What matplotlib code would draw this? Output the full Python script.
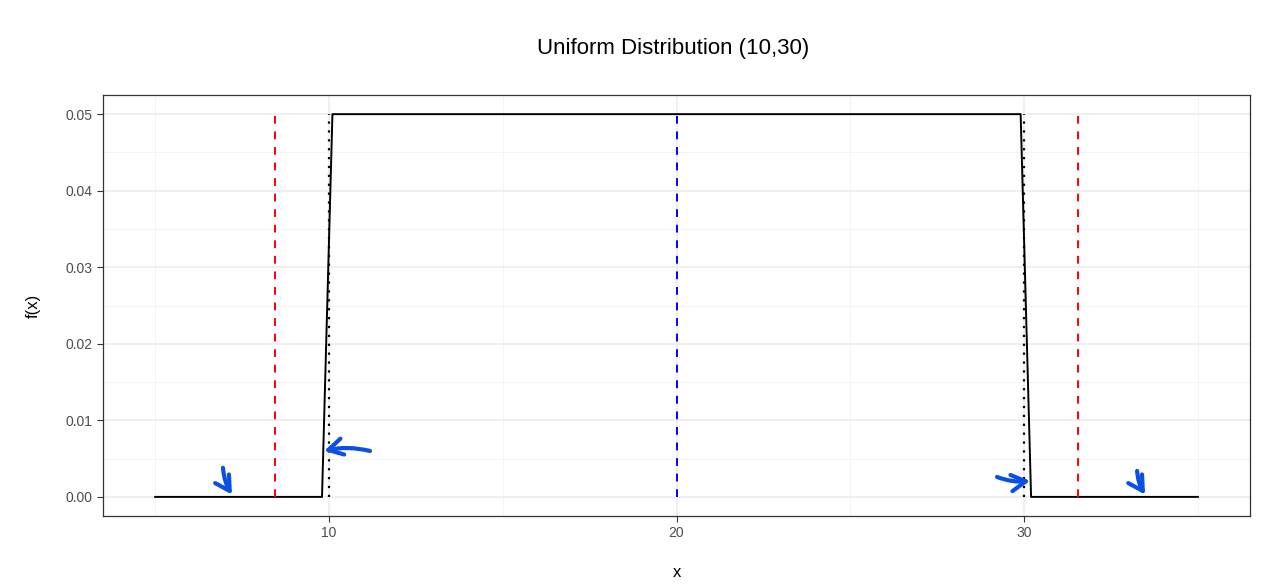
import numpy as np
import matplotlib
matplotlib.use("Agg")
import matplotlib.pyplot as plt
from matplotlib.ticker import MultipleLocator

# density curve corner points (sampled every 0.3 in the original)
x_pts = [5, 9.8, 10.1, 29.9, 30.2, 35]
fx_pts = [0, 0, 0.05, 0.05, 0, 0]

a, b = 10, 30
mean_x = 20
sd_lines = [8.45, 31.55]       # mean +/- 2 sd
top = 0.05

# hand drawn arrows: (tail_x, tail_y, tip_x, tip_y)
arrows = [
    (6.95, 0.0038, 7.21, 0.0003),
    (11.18, 0.0060, 9.86, 0.0060),
    (29.22, 0.0026, 30.17, 0.0021),
    (33.25, 0.0034, 33.48, 0.0003),
]

plt.rcParams['font.family'] = ['Liberation Sans', 'DejaVu Sans']

fig = plt.figure(figsize=(12.8, 5.88), dpi=100)
ax = fig.add_axes([0.0805, 0.1224, 0.8961, 0.716])

# grid like theme_bw
ax.set_xlim(3.5, 36.5)
ax.set_ylim(-0.0025, 0.0525)
ax.xaxis.set_major_locator(MultipleLocator(10))
ax.xaxis.set_minor_locator(MultipleLocator(5))
ax.yaxis.set_major_locator(MultipleLocator(0.01))
ax.yaxis.set_minor_locator(MultipleLocator(0.005))
ax.grid(which='major', color='#EBEBEB', lw=1.1)
ax.grid(which='minor', color='#F2F2F2', lw=0.6)
ax.set_axisbelow(True)
ax.tick_params(which='minor', length=0)
ax.tick_params(which='major', length=4, width=0.8, color='#333333',
               labelcolor='#4D4D4D', labelsize=10)
ax.yaxis.set_major_formatter(plt.FuncFormatter(lambda v, p: f"{v:.2f}"))
for s in ax.spines.values():
    s.set_color('#333333')
    s.set_linewidth(0.9)

# the density
ax.plot(x_pts, fx_pts, color='black', lw=1.4)

# bounds, mean and +/- 2sd
for v in [a, b]:
    ax.plot([v, v], [0, top], color='black', lw=1.6, linestyle=(0, (1, 3)))
for v in sd_lines:
    ax.plot([v, v], [0, top], color='red', lw=1.4, linestyle=(0, (4, 4)))
ax.plot([mean_x, mean_x], [0, top], color='blue', lw=1.4, linestyle=(0, (4, 4)))

for x0, y0, x1, y1 in arrows:
    ax.annotate('', xy=(x1, y1), xytext=(x0, y0),
                arrowprops=dict(arrowstyle='->,head_length=0.8,head_width=0.45',
                                color='#0A50E6', lw=3, mutation_scale=13,
                                shrinkA=0, shrinkB=0,
                                capstyle='round', joinstyle='round',
                                connectionstyle='arc3,rad=0.12'))

ax.set_xlabel('x', fontsize=12, labelpad=18)
ax.set_ylabel('f(x)', fontsize=12, labelpad=18)
fig.suptitle('Uniform Distribution (10,30)', fontsize=16, x=0.526, y=0.935)

fig.savefig('out.png', dpi=100)
